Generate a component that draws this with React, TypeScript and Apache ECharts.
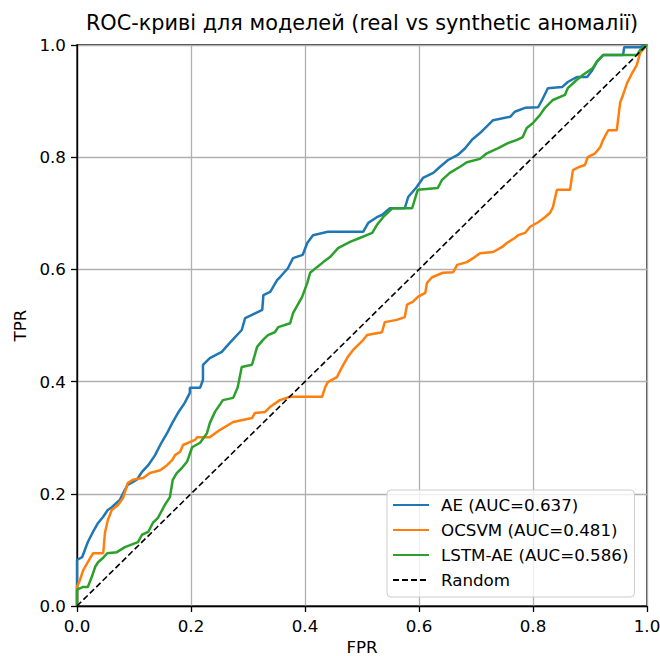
import React, { useEffect, useRef } from "react";
import * as echarts from "echarts";

const TITLE = "ROC-криві для моделей (real vs synthetic аномалії)";
const X_NAME = "FPR";
const Y_NAME = "TPR";
const SERIES_NAMES = ["AE (AUC=0.637)", "OCSVM (AUC=0.481)", "LSTM-AE (AUC=0.586)", "Random"];

const AE_ROC: [number, number][] = [
  [0, 0], [0, 0.041], [0, 0.082], [0.009, 0.087], [0.019, 0.114], [0.028, 0.132], [0.037, 0.148],
  [0.046, 0.159], [0.054, 0.171], [0.061, 0.176], [0.075, 0.189], [0.084, 0.207], [0.089, 0.216],
  [0.105, 0.225], [0.114, 0.239], [0.125, 0.251], [0.137, 0.269], [0.146, 0.287], [0.158, 0.308],
  [0.167, 0.326], [0.177, 0.344], [0.189, 0.362], [0.198, 0.38], [0.198, 0.389], [0.216, 0.389],
  [0.221, 0.403], [0.221, 0.43], [0.233, 0.442], [0.254, 0.453], [0.268, 0.469], [0.289, 0.492],
  [0.295, 0.513], [0.307, 0.519], [0.325, 0.528], [0.327, 0.554], [0.339, 0.56], [0.351, 0.581],
  [0.356, 0.586], [0.37, 0.602], [0.379, 0.62], [0.396, 0.626], [0.404, 0.647], [0.414, 0.661],
  [0.44, 0.667], [0.502, 0.667], [0.511, 0.683], [0.526, 0.693], [0.535, 0.697], [0.549, 0.709],
  [0.575, 0.709], [0.581, 0.729], [0.596, 0.747], [0.607, 0.763], [0.625, 0.772], [0.637, 0.783],
  [0.651, 0.795], [0.668, 0.804], [0.681, 0.816], [0.693, 0.831], [0.707, 0.843], [0.73, 0.866],
  [0.76, 0.872], [0.768, 0.881], [0.786, 0.888], [0.809, 0.889], [0.816, 0.902], [0.826, 0.923],
  [0.851, 0.925], [0.861, 0.934], [0.877, 0.943], [0.895, 0.943], [0.904, 0.955], [0.912, 0.97],
  [0.923, 0.982], [0.958, 0.982], [0.96, 0.996], [0.988, 0.996], [1, 1],
];

const OCSVM_ROC: [number, number][] = [
  [0, 0], [0, 0.034], [0.005, 0.046], [0.011, 0.064], [0.019, 0.078], [0.028, 0.094], [0.046, 0.094],
  [0.049, 0.13], [0.054, 0.153], [0.061, 0.171], [0.072, 0.18], [0.081, 0.193], [0.089, 0.219],
  [0.098, 0.225], [0.116, 0.228], [0.128, 0.237], [0.146, 0.242], [0.158, 0.251], [0.167, 0.26],
  [0.172, 0.269], [0.181, 0.275], [0.186, 0.287], [0.207, 0.296], [0.211, 0.301], [0.233, 0.301],
  [0.251, 0.314], [0.274, 0.328], [0.307, 0.335], [0.312, 0.344], [0.33, 0.346], [0.339, 0.355],
  [0.356, 0.367], [0.374, 0.373], [0.43, 0.373], [0.435, 0.389], [0.44, 0.399], [0.456, 0.408],
  [0.465, 0.426], [0.475, 0.444], [0.484, 0.456], [0.502, 0.474], [0.509, 0.483], [0.535, 0.488],
  [0.54, 0.506], [0.561, 0.51], [0.575, 0.515], [0.579, 0.537], [0.589, 0.542], [0.598, 0.551],
  [0.611, 0.558], [0.614, 0.576], [0.623, 0.586], [0.642, 0.594], [0.66, 0.595], [0.667, 0.608],
  [0.684, 0.613], [0.695, 0.62], [0.707, 0.629], [0.73, 0.631], [0.746, 0.64], [0.754, 0.647],
  [0.768, 0.656], [0.774, 0.661], [0.786, 0.665], [0.795, 0.676], [0.809, 0.684], [0.821, 0.693],
  [0.83, 0.701], [0.835, 0.711], [0.842, 0.742], [0.865, 0.742], [0.87, 0.777], [0.882, 0.783],
  [0.891, 0.786], [0.896, 0.8], [0.909, 0.807], [0.918, 0.818], [0.923, 0.831], [0.932, 0.848],
  [0.947, 0.848], [0.953, 0.898], [0.958, 0.911], [0.965, 0.932], [0.974, 0.95], [0.982, 0.964],
  [0.988, 0.986], [1, 1],
];

const LSTM_AE_ROC: [number, number][] = [
  [0, 0], [0, 0.029], [0.011, 0.034], [0.019, 0.034], [0.026, 0.052], [0.032, 0.07], [0.037, 0.078],
  [0.046, 0.086], [0.053, 0.094], [0.07, 0.096], [0.084, 0.105], [0.107, 0.114], [0.114, 0.127],
  [0.125, 0.132], [0.133, 0.148], [0.142, 0.157], [0.154, 0.18], [0.163, 0.194], [0.168, 0.225],
  [0.175, 0.237], [0.184, 0.246], [0.193, 0.257], [0.202, 0.283], [0.216, 0.291], [0.228, 0.308],
  [0.233, 0.326], [0.242, 0.346], [0.256, 0.367], [0.274, 0.371], [0.282, 0.39], [0.289, 0.426],
  [0.307, 0.43], [0.316, 0.462], [0.326, 0.474], [0.335, 0.483], [0.347, 0.488], [0.353, 0.497],
  [0.374, 0.504], [0.379, 0.522], [0.395, 0.551], [0.404, 0.576], [0.409, 0.594], [0.421, 0.604],
  [0.432, 0.613], [0.444, 0.622], [0.458, 0.638], [0.479, 0.649], [0.496, 0.656], [0.518, 0.665],
  [0.526, 0.679], [0.537, 0.693], [0.553, 0.709], [0.588, 0.709], [0.596, 0.736], [0.598, 0.742],
  [0.633, 0.745], [0.64, 0.759], [0.654, 0.772], [0.672, 0.783], [0.684, 0.791], [0.707, 0.797],
  [0.719, 0.807], [0.739, 0.816], [0.756, 0.825], [0.772, 0.831], [0.782, 0.836], [0.789, 0.852],
  [0.8, 0.861], [0.812, 0.875], [0.821, 0.888], [0.835, 0.902], [0.856, 0.911], [0.861, 0.923],
  [0.877, 0.938], [0.888, 0.947], [0.905, 0.959], [0.914, 0.973], [0.923, 0.982], [0.982, 0.982],
  [0.988, 0.991], [1, 1],
];

const RANDOM_LINE: [number, number][] = [[0, 0], [1, 1]];

const COLORS = ["#1f77b4", "#ff7f0e", "#2ca02c", "#000000"];
const FONT = "DejaVu Sans";

export default function App() {
  const ref = useRef<HTMLDivElement>(null);
  useEffect(() => {
    document.body.style.margin = "0";
    const chart = echarts.init(ref.current!, null, { renderer: "svg" });
    const axisCommon = {
      type: "value",
      min: 0,
      max: 1,
      interval: 0.2,
      nameLocation: "middle",
      nameTextStyle: { fontFamily: FONT, fontSize: 16.7, color: "#000", verticalAlign: "middle" },
      axisLine: { show: true, onZero: false, lineStyle: { color: "#000", width: 1.3 } },
      axisTick: { show: true, inside: false, length: 6, lineStyle: { color: "#000", width: 1.3 } },
      axisLabel: {
        margin: 11,
        fontFamily: FONT,
        fontSize: 16.7,
        color: "#000",
        formatter: (v: number) => v.toFixed(1),
      },
      splitLine: { show: true, lineStyle: { color: "#b0b0b0", width: 1.3 } },
    };
    const lineSeries = (name: string, data: [number, number][], color: string, extra: any = {}) => ({
      name,
      type: "line",
      data,
      showSymbol: false,
      symbol: "none",
      color,
      lineStyle: { color, width: 2.5, ...(extra.lineStyle || {}) },
      emphasis: { disabled: true },
      silent: true,
    });
    chart.setOption({
      animation: false,
      backgroundColor: "#fff",
      textStyle: { fontFamily: FONT },
      grid: {
        left: 77,
        right: 13,
        top: 45,
        bottom: 50,
        containLabel: false,
        outerBoundsMode: "none",
        show: true,
        borderColor: "#000",
        borderWidth: 1.3,
        backgroundColor: "transparent",
      },
      xAxis: { ...axisCommon, name: X_NAME, nameGap: 41 },
      yAxis: { ...axisCommon, name: Y_NAME, nameGap: 56, nameRotate: 90 },
      legend: {
        orient: "vertical",
        left: 387,
        top: 490,
        padding: [6.5, 6, 8.5, 5],
        itemWidth: 36,
        itemHeight: 17,
        itemGap: 8,
        itemStyle: { opacity: 0 },
        backgroundColor: "rgba(255,255,255,0.8)",
        borderColor: "#cccccc",
        borderWidth: 1,
        borderRadius: 4,
        textStyle: { fontFamily: FONT, fontSize: 16.7, color: "#000", lineHeight: 17, padding: [0, 0, 0, 7] },
        data: SERIES_NAMES,
      },
      graphic: [
        {
          type: "text",
          x: 362,
          y: 23,
          style: {
            text: TITLE,
            font: `20.8px "${FONT}"`,
            fill: "#000",
            textAlign: "center",
            textVerticalAlign: "middle",
          },
        },
      ],
      series: [
        lineSeries(SERIES_NAMES[0], AE_ROC, COLORS[0]),
        lineSeries(SERIES_NAMES[1], OCSVM_ROC, COLORS[1]),
        lineSeries(SERIES_NAMES[2], LSTM_AE_ROC, COLORS[2]),
        lineSeries(SERIES_NAMES[3], RANDOM_LINE, COLORS[3], { lineStyle: { width: 1.6, type: [6, 3] } }),
      ],
    });
    return () => chart.dispose();
  }, []);
  return <div ref={ref} style={{ position: "absolute", left: 0, top: 0, width: 660, height: 656 }} />;
}
